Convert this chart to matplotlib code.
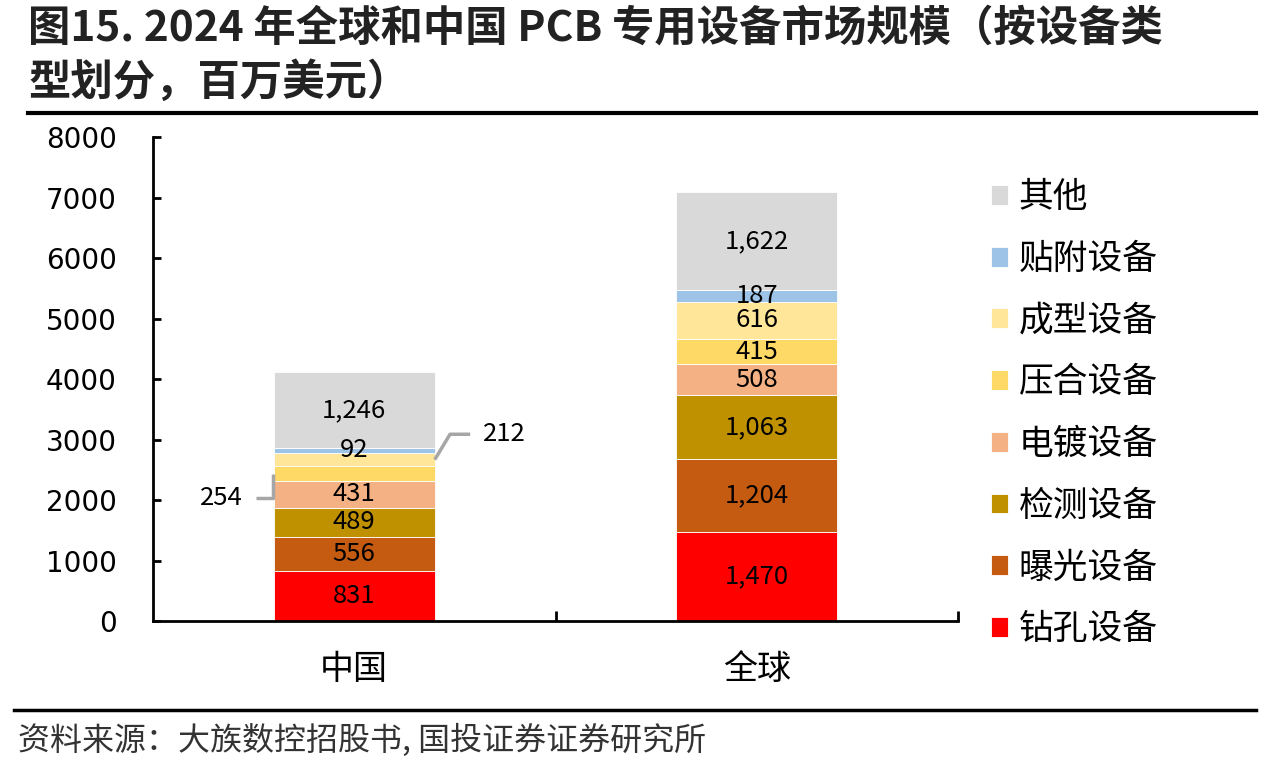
import matplotlib
matplotlib.use("Agg")
import matplotlib.pyplot as plt
import numpy as np

plt.rcParams['font.family'] = ['Noto Sans CJK SC', 'DejaVu Sans']

# 数据（百万美元）
regioes = ["中国", "全球"]
tipos = ["钻孔设备", "曝光设备", "检测设备", "电镀设备", "压合设备", "成型设备", "贴附设备", "其他"]
china = [831, 556, 489, 431, 254, 212, 92, 1246]
globo = [1470, 1204, 1063, 508, 415, 616, 187, 1622]
cores = ["#FF0000", "#C55A11", "#BF9000", "#F4B183", "#FFD966", "#FFE699", "#9DC3E6", "#D9D9D9"]

valores = np.array([china, globo]).T  # linhas = tipo, colunas = região

fig = plt.figure(figsize=(12.76, 7.68), dpi=100)
ax = fig.add_axes([0.1199, 0.1914, 0.6309, 0.6302])

x = np.arange(len(regioes))
largura = 0.4
base = np.zeros(len(regioes))
barras = []
for i, tipo in enumerate(tipos):
    b = ax.bar(x, valores[i], largura, bottom=base, color=cores[i],
               edgecolor="white", linewidth=0.6, label=tipo)
    barras.append((b, base.copy()))
    base = base + valores[i]

# rótulos dentro das barras (China: 254 e 212 ficam fora)
fora = {(0, 4), (0, 5)}
for i in range(len(tipos)):
    for j in range(len(regioes)):
        if (j, i) in fora:
            continue
        v = valores[i][j]
        centro = barras[i][1][j] + v / 2
        ax.text(x[j], centro, f"{v:,}", ha="center", va="center",
                fontsize=18.5, color="black")

# linhas de chamada para China
cinza = "#A6A6A6"
c_prensa = barras[4][1][0] + valores[4][0] / 2
y254 = c_prensa - 400
xe = x[0] - largura / 2
ax.plot([xe - 0.002, xe - 0.002, xe - 0.044], [c_prensa, y254, y254],
        color=cinza, lw=2.5, solid_capstyle="butt", clip_on=False)
ax.text(xe - 0.076, y254, f"{valores[4][0]:,}", ha="right", va="center", fontsize=18.5)

c_form = barras[5][1][0] + valores[5][0] / 2
y212 = c_form + 420
xd = x[0] + largura / 2
ax.plot([xd, xd + 0.038, xd + 0.088], [c_form, y212, y212],
        color=cinza, lw=2.5, solid_capstyle="butt", clip_on=False)
ax.text(xd + 0.12, y212, f"{valores[5][0]:,}", ha="left", va="center", fontsize=18.5)

ax.set_xlim(-0.5, 1.5)
ax.set_ylim(0, 8000)
ax.set_yticks(np.arange(0, 8001, 1000))
ax.tick_params(axis="y", direction="in", length=6, width=2, pad=26)
for t in ax.get_yticklabels():
    t.set_fontfamily("DejaVu Sans")
    t.set_fontsize(20)
ax.set_xticks([0.5, 1.5])
ax.set_xticklabels([])
ax.set_xticks(x, minor=True)
ax.set_xticklabels(regioes, minor=True, fontsize=24.5)
ax.tick_params(axis="x", which="major", direction="in", length=7, width=2)
ax.tick_params(axis="x", which="minor", length=0, pad=22)
for lado in ["top", "right"]:
    ax.spines[lado].set_visible(False)
for lado in ["left", "bottom"]:
    ax.spines[lado].set_linewidth(2)

# legenda (ordem invertida)
h, l = ax.get_legend_handles_labels()
fig.legend(h[::-1], l[::-1], loc="upper left", bbox_to_anchor=(0.752, 0.806),
           frameon=False, fontsize=25, handlelength=0.5, handleheight=0.5,
           handletextpad=0.3, labelspacing=0.77)

# título
fig.text(0.022, 0.963, "图15. 2024 年全球和中国 PCB 专用设备市场规模（按设备类",
         fontsize=30.5, fontweight="bold", color="#222222", va="center")
fig.text(0.022, 0.892, "型划分，百万美元）",
         fontsize=30.5, fontweight="bold", color="#222222", va="center")
fig.add_artist(plt.Line2D([0.022, 0.984], [0.853, 0.853], color="black", lw=3))

# fonte
fig.add_artist(plt.Line2D([0.011, 0.984], [0.076, 0.076], color="black", lw=2.5))
fig.text(0.014, 0.036, "资料来源：大族数控招股书, 国投证券证券研究所",
         fontsize=23, style="italic", color="#333333", va="center")

fig.savefig("out.png", dpi=100)
